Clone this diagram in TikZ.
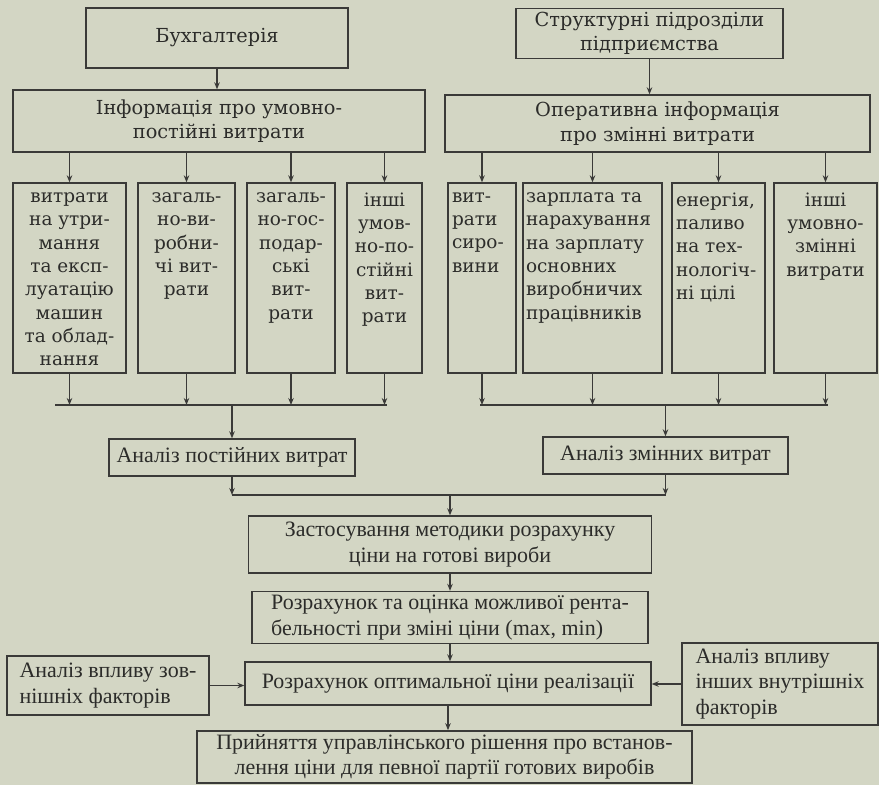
\documentclass[tikz,border=0pt]{standalone}
\usepackage{fontspec}
\setmainfont{Liberation Serif}
\newfontfamily\slabfont{DejaVu Serif}
\usepackage{xcolor}
\definecolor{paperTone}{HTML}{D3D6C4}
\definecolor{inkGray}{HTML}{3A3A38}
\definecolor{inkText}{HTML}{2C2C2A}
\usepackage{tikz}
\usetikzlibrary{arrows.meta, positioning}
\tikzset{
    % Base style for all boxes
    box base/.style={
        draw=inkGray,
        line width=0.8pt,
        text=inkText,
        inner sep=2pt,
    },
    % Source and information boxes at the top
    source/.style={
        box base,
        font=\slabfont\fontsize{11}{14}\selectfont,
        align=center,
    },
    % Cost item cells
    cell/.style={
        box base,
        font=\slabfont\fontsize{10.5}{13.3}\selectfont,
        minimum height=3.8cm,
        inner sep=1pt,
    },
    % Analysis and decision stages
    stage/.style={
        box base,
        font=\fontsize{12.5}{14.5}\selectfont,
        align=center,
    },
    % Connector arrows
    arrow/.style={
        -{Stealth[length=1.4mm, width=1.1mm]},
        line width=0.8pt,
        draw=inkGray,
    },
    % Collecting lines
    bus/.style={
        line width=0.8pt,
        draw=inkGray,
    },
}

\begin{document}
\begin{tikzpicture}[x=0.02cm, y=-0.02cm]
    \fill [paperTone] (0,0) rectangle (879,785);
    \useasboundingbox (0,0) rectangle (879,785);

    % Sources
    \node (buh) [source, minimum width=5.24cm, minimum height=1.2cm] at (217,38) {Бухгалтерія};
    \node (struct) [source, minimum width=5.34cm, minimum height=0.98cm] at (649.5,33.5) {Структурні підрозділи\\підприємства};
    \node (info_const) [source, minimum width=8.24cm, minimum height=1.24cm] at (219,121) {Інформація про умовно-\\постійні витрати};
    \node (info_var) [source, minimum width=8.5cm, minimum height=1.14cm] at (657.5,123.5) {Оперативна інформація\\про змінні витрати};

    % Conditionally fixed cost items
    \node (c1) [cell, minimum width=2.26cm] at (69.5,278) {\parbox[t][3.42cm][t]{2.18cm}{\centering витрати\\на утри-\\мання\\та експ-\\луатацію\\машин\\та облад-\\нання}};
    \node (c2) [cell, minimum width=1.94cm] at (186.5,278) {\parbox[t][3.42cm][t]{1.86cm}{\centering загаль-\\но-ви-\\робни-\\чі вит-\\рати}};
    \node (c3) [cell, minimum width=1.76cm] at (291,278) {\parbox[t][3.42cm][t]{1.68cm}{\centering загаль-\\но-гос-\\подар-\\ські\\вит-\\рати}};
    \node (c4) [cell, minimum width=1.5cm] at (384.5,278) {\parbox[t][3.42cm][t]{1.42cm}{\centering інші\\умов-\\но-по-\\стійні\\вит-\\рати}};

    % Variable cost items
    \node (v1) [cell, minimum width=1.36cm] at (482,278) {\parbox[t][3.42cm][t]{1.2cm}{\raggedright вит-\\рати\\сиро-\\вини}};
    \node (v2) [cell, minimum width=2.78cm] at (592.5,278) {\parbox[t][3.42cm][t]{2.66cm}{\raggedright зарплата та\\нарахування\\на зарплату\\основних\\виробничих\\працівників}};
    \node (v3) [cell, minimum width=1.86cm] at (718.5,278) {\parbox[t][3.42cm][t]{1.7cm}{\raggedright енергія,\\паливо\\на тех-\\нологіч-\\ні цілі}};
    \node (v4) [cell, minimum width=2.06cm] at (825.5,278) {\parbox[t][3.42cm][t]{1.98cm}{\centering інші\\умовно-\\змінні\\витрати}};

    % Analysis and decision
    \node (an_const) [stage, minimum width=4.92cm, minimum height=0.74cm] at (232,457.5) {Аналіз постійних витрат};
    \node (an_var) [stage, minimum width=4.9cm, minimum height=0.74cm] at (665.5,455.5) {Аналіз змінних витрат};
    \node (apply) [stage, minimum width=8.06cm, minimum height=1.14cm] at (450,544.5) {Застосування методики розрахунку\\ціни на готові вироби};
    \node (profit) [stage, align=left, minimum width=7.92cm, minimum height=1.04cm] at (450,617.5) {Розрахунок та оцінка можливої рента-\\бельності при зміні ціни (max, min)};
    \node (optimal) [stage, minimum width=8.12cm, minimum height=0.86cm] at (448,683.5) {Розрахунок оптимальної ціни реалізації};
    \node (ext) [stage, align=left, minimum width=4.04cm, minimum height=1.18cm] at (108,685.5) {Аналіз впливу зов-\\нішніх факторів};
    \node (intern) [stage, align=left, minimum width=3.92cm, minimum height=1.64cm] at (780,684) {Аналіз впливу\\інших внутрішніх\\факторів};
    \node (decision) [stage, minimum width=9.9cm, minimum height=1.04cm] at (444.5,757) {Прийняття управлінського рішення про встанов-\\лення ціни для певної партії готових виробів};

    \coordinate (bus_const_w) at (55,405);
    \coordinate (bus_const_e) at (387,405);
    \coordinate (bus_var_w) at (480,405);
    \coordinate (bus_var_e) at (828,405);
    \coordinate (bus_total) at (450,495);

    \draw [arrow] (buh) -- (buh |- info_const.north);
    \draw [arrow] (struct) -- (struct |- info_var.north);

    \draw [arrow] (info_const.south -| c1) -- (c1);
    \draw [arrow] (info_const.south -| c2) -- (c2);
    \draw [arrow] (info_const.south -| c3) -- (c3);
    \draw [arrow] (info_const.south -| c4) -- (c4);
    \draw [arrow] (info_var.south -| v1) -- (v1);
    \draw [arrow] (info_var.south -| v2) -- (v2);
    \draw [arrow] (info_var.south -| v3) -- (v3);
    \draw [arrow] (info_var.south -| v4) -- (v4);

    \draw [bus] (bus_const_w) -- (bus_const_e);
    \draw [arrow] (c1) -- (c1 |- bus_const_w);
    \draw [arrow] (c2) -- (c2 |- bus_const_w);
    \draw [arrow] (c3) -- (c3 |- bus_const_w);
    \draw [arrow] (c4) -- (c4 |- bus_const_w);
    \draw [arrow] (an_const |- bus_const_w) -- (an_const);

    \draw [bus] (bus_var_w) -- (bus_var_e);
    \draw [arrow] (v1) -- (v1 |- bus_var_w);
    \draw [arrow] (v2) -- (v2 |- bus_var_w);
    \draw [arrow] (v3) -- (v3 |- bus_var_w);
    \draw [arrow] (v4) -- (v4 |- bus_var_w);
    \draw [arrow] (an_var |- bus_var_w) -- (an_var);

    \draw [bus] (an_const |- bus_total) -- (an_var |- bus_total);
    \draw [arrow] (an_const) -- (an_const |- bus_total);
    \draw [arrow] (an_var) -- (an_var |- bus_total);
    \draw [arrow] (bus_total) -- (apply);
    \draw [arrow] (apply) -- (profit);
    \draw [arrow] (profit) -- (profit |- optimal.north);
    \draw [arrow] (ext) -- (ext -| optimal.west);
    \draw [arrow] (intern) -- (intern -| optimal.east);
    \draw [arrow] (optimal) -- (optimal |- decision.north);
\end{tikzpicture}
\end{document}
